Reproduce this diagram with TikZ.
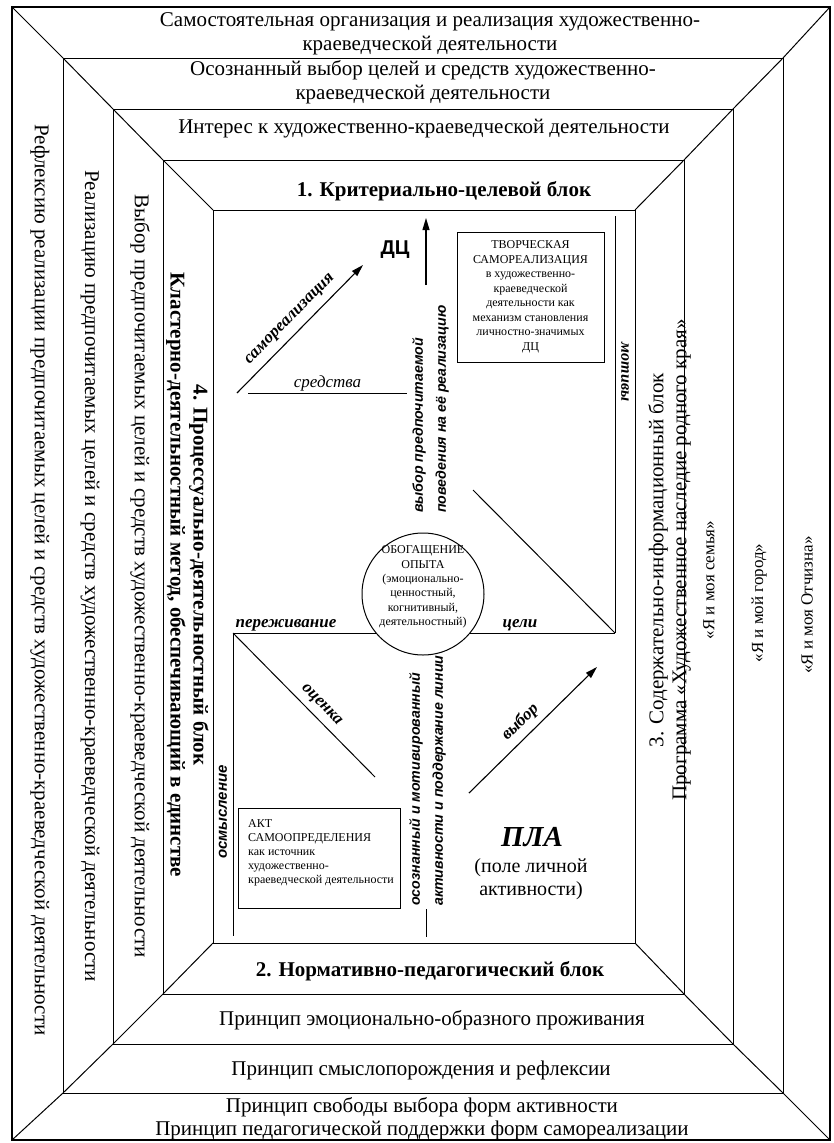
\documentclass[tikz,border=0pt]{standalone}
\usepackage{fontspec}
\setmainfont{Liberation Serif}
\setsansfont{Liberation Sans}
\usetikzlibrary{arrows.meta}
\begin{document}
\begin{tikzpicture}[x=1pt,y=-1pt,
  frm/.style={line width=1pt},
  bandtxt/.style={font=\fontsize{21}{24}\selectfont, align=center, inner sep=0pt},
  bandbold/.style={font=\fontsize{21}{23}\selectfont\bfseries, align=center, inner sep=0pt},
  rbandtxt/.style={font=\fontsize{17}{20}\selectfont, inner sep=0pt},
  smalltxt/.style={font=\fontsize{12}{14.5}\selectfont, align=center, inner sep=0pt},
  lblbi/.style={font=\fontsize{17}{20}\selectfont\bfseries\itshape, inner sep=2pt},
  lblit/.style={font=\fontsize{17}{20}\selectfont\itshape, inner sep=2pt},
  vsans/.style={font=\sffamily\bfseries\itshape\fontsize{14.2}{23}\selectfont, align=left, inner sep=0pt},
  arrw/.style={-{Triangle[length=12pt,width=7pt]}, line width=1.1pt},
  ln/.style={line width=1pt}
]
\useasboundingbox (0,0) rectangle (833,1143);
% frame corners
\coordinate (o1) at (12,7);   \coordinate (o2) at (830,7);   \coordinate (o3) at (830,1140); \coordinate (o4) at (12,1140);
\coordinate (a1) at (63,58);  \coordinate (a2) at (783,58);  \coordinate (a3) at (783,1093); \coordinate (a4) at (63,1093);
\coordinate (b1) at (113,109);\coordinate (b2) at (733,109); \coordinate (b3) at (733,1044); \coordinate (b4) at (113,1044);
\coordinate (c1) at (163,160);\coordinate (c2) at (684,160); \coordinate (c3) at (684,994);  \coordinate (c4) at (163,994);
\coordinate (d1) at (213,210);\coordinate (d2) at (635,210); \coordinate (d3) at (635,943);  \coordinate (d4) at (213,943);
\draw[line width=1.2pt] (o1) rectangle (o3);
\draw[frm] (a1) rectangle (a3);
\draw[frm] (b1) rectangle (b3);
\draw[frm] (c1) rectangle (c3);
\draw[frm] (d1) rectangle (d3);
\draw[frm] (o1) -- (a1) -- (b1) -- (c1) -- (d1);
\draw[frm] (o2) -- (a2) -- (b2) -- (c2) -- (d2);
\draw[frm] (o3) -- (a3) -- (b3) -- (c3) -- (d3);
\draw[frm] (o4) -- (a4) -- (b4) -- (c4) -- (d4);

% top bands
\node[bandtxt] (t1) at (430,34) {Самостоятельная организация и реализация художественно-\\краеведческой деятельности};
\node[bandtxt] (t2) at (423,82) {Осознанный выбор целей и средств художественно-\\краеведческой деятельности};
\node[bandtxt] (t3) at (424,129) {Интерес к художественно-краеведческой деятельности};
\node[bandbold] (t4) at (444,191) {1. Критериально-целевой блок};
% bottom bands
\node[bandbold] (t5) at (430,971) {2. Нормативно-педагогический блок};
\node[bandtxt] (t6) at (432,1020) {Принцип эмоционально-образного проживания};
\node[bandtxt] (t7) at (421,1070) {Принцип смыслопорождения и рефлексии};
\node[bandtxt, font=\fontsize{21}{23}\selectfont] (t8) at (422,1119) {Принцип свободы выбора форм активности\\Принцип педагогической поддержки форм самореализации};
% left bands
\node[bandtxt, rotate=-90] (l1) at (40,580) {Рефлексию реализации предпочитаемых целей и средств художественно-краеведческой деятельности};
\node[bandtxt, rotate=-90] (l2) at (90,576) {Реализацию предпочитаемых целей и средств художественно-краеведческой деятельности};
\node[bandtxt, rotate=-90] (l3) at (140,576) {Выбор предпочитаемых целей и средств художественно-краеведческой деятельности};
\node[bandbold, rotate=-90] (l4) at (187.5,575) {4. Процессуально-деятельностный блок\\Кластерно-деятельностный метод, обеспечивающий в единстве};
% right bands
\node[bandtxt, font=\fontsize{21}{23}\selectfont, rotate=90] (r4) at (669.5,560) {3. Содержательно-информационный блок\\Программа «Художественное наследие родного края»};
\node[rbandtxt, rotate=90] (r3) at (709,580) {«Я и моя семья»};
\node[rbandtxt, rotate=90] (r2) at (759,603) {«Я и мой город»};
\node[rbandtxt, rotate=90] (r1) at (807,605) {«Я и моя Отчизна»};

% upper-left triangle
\coordinate (A) at (237,393);
\coordinate (Am) at (248,393);
\coordinate (S) at (407,393);
\coordinate (Atip) at (363,265);
\draw[arrw] (A) -- node[lblbi, sloped, above=5pt, pos=0.5] (samo) {самореализация} (Atip);
\draw[ln] (Am) -- node[lblit, above=-1pt] (sred) {средства} (S);
% up arrow and DC
\coordinate (U1) at (426,285);
\coordinate (U2) at (426,218);
\draw[arrw] (U1) -- (U2);
\node[font=\sffamily\bfseries\fontsize{20}{24}\selectfont, inner sep=0pt] (dc) at (395,250) {ДЦ};
% creative box
\node[draw, line width=1pt, minimum width=147pt, minimum height=130pt, smalltxt] (ts) at (530.5,297) {ТВОРЧЕСКАЯ\\САМОРЕАЛИЗАЦИЯ\\в художественно-\\краеведческой\\деятельности как\\механизм становления\\личностно-значимых\\ДЦ};
% vertical texts
\node[vsans, rotate=90, anchor=west] (v1) at (430.5,513) {выбор предпочитаемой\\поведения на её реализацию};
\node[vsans, rotate=90, anchor=west] (v2) at (427.5,906) {осознанный и мотивированный\\активности и поддержание линии};
\coordinate (V2b) at (426,909);
\coordinate (V2e) at (426,937);
\draw[ln] (V2b) -- (V2e);

% middle line, upper-right triangle
\coordinate (B) at (233,633);
\coordinate (C) at (615,633);
\coordinate (Ctop) at (615,216);
\coordinate (Dg) at (473,490);
\draw[ln] (B) -- (C);
\draw[ln] (C) -- (Ctop);
\draw[ln] (Dg) -- (C);
\node[lblbi, font=\fontsize{16}{20}\selectfont\bfseries\itshape, rotate=-90, inner sep=0pt] (motiv) at (625,372) {мотивы};
\node[lblbi, inner sep=0pt] (perezh) at (286,625) {переживание};
\node[lblbi, inner sep=0pt] (celi) at (520,625) {цели};
% circle
\node[circle, draw, line width=1pt, fill=white, minimum size=122pt, inner sep=0pt] (ob) at (423,594) {};
\node[smalltxt, font=\fontsize{12}{14.4}\selectfont] (obt) at (423,587) {ОБОГАЩЕНИЕ\\ОПЫТА\\(эмоционально-\\ценностный,\\когнитивный,\\деятельностный)};

% lower-left triangle
\coordinate (Bd) at (375,777);
\coordinate (Bb) at (233,936);
\draw[ln] (B) -- node[lblbi, sloped, above=4pt, pos=0.56] (ocen) {оценка} (Bd);
\draw[ln] (B) -- (Bb);
\node[vsans, font=\sffamily\bfseries\itshape\fontsize{15}{18}\selectfont, rotate=90] (osm) at (223,812) {осмысление};
% act box
\node[draw, line width=1pt, minimum width=162pt, minimum height=100pt, inner sep=0pt] (akt) at (319,858) {};
\node[anchor=north west, align=left, font=\fontsize{12}{14}\selectfont, inner sep=0pt] (aktt) at (248,819) {АКТ\\САМООПРЕДЕЛЕНИЯ\\как источник\\художественно-\\краеведческой деятельности};

% choice arrow
\coordinate (D) at (469,793);
\coordinate (E) at (597,667);
\draw[arrw] (D) -- node[lblbi, sloped, above=4pt, pos=0.48] (vyb) {выбор} (E);
% PLA
\node[font=\bfseries\itshape\fontsize{29}{32}\selectfont, inner sep=0pt] (pla) at (532,837) {ПЛА};
\node[font=\fontsize{20}{23}\selectfont, align=center, inner sep=0pt] (pole) at (531,879) {(поле личной\\активности)};
\end{tikzpicture}
\end{document}
